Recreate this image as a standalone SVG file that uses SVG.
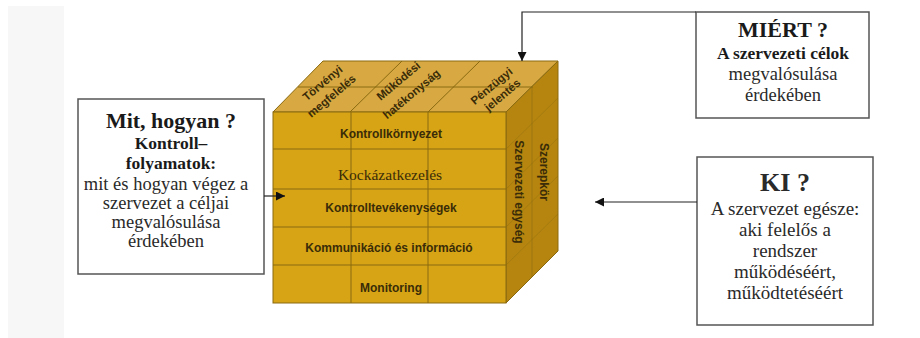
<svg xmlns="http://www.w3.org/2000/svg" width="920" height="338" viewBox="0 0 920 338">
<defs>
<style>
.box{fill:#fff;stroke:#555;stroke-width:1.5}
.ser{font-family:"Liberation Serif","Times New Roman",serif;fill:#2a2a2a;text-anchor:middle}
.h{font-weight:bold;font-size:22px;fill:#1a1a1a}
.b{font-weight:bold;font-size:17.5px;fill:#1a1a1a}
.r{font-size:18.5px}
.cl{font-family:"Liberation Sans",Arial,sans-serif;font-weight:bold;fill:#3a2c08;text-anchor:middle}
.grid{stroke:#8a6a10;stroke-width:1;fill:none}
.conn{stroke:#222;stroke-width:1.2;fill:none}
</style>
<marker id="ah" viewBox="0 0 10 10" refX="10" refY="5" markerWidth="9" markerHeight="9" markerUnits="userSpaceOnUse" orient="auto">
<path d="M0,0 L10,5 L0,10 z" fill="#111"/>
</marker>
</defs>
<rect x="0" y="0" width="920" height="338" fill="#fff"/>
<rect x="8" y="6" width="56" height="332" fill="#f7f7f7"/>

<g id="cube">
<polygon points="273,112 323,61 558,61 506,112" fill="#D8A943" stroke="#8a6a10"/>
<polygon points="506,112 558,61 558,251 506,303" fill="#B5850F" stroke="#8a6a10"/>
<rect x="273" y="112" width="233" height="191" fill="#D6A414" stroke="#8a6a10"/>
<path class="grid" d="M298,87 L533,87 M350,112 L402,61 M428,112 L480,61"/>
<path class="grid" d="M273,149 H506 M273,189 H506 M273,227 H506 M273,265 H506 M351,112 V303 M428,112 V303"/>
<path class="grid" d="M532,87 V277" stroke-opacity="0.5"/>
<path class="grid" d="M506,149 L558,98 M506,189 L558,138 M506,227 L558,176 M506,265 L558,214" stroke-opacity="0.35"/>
<g class="cl" font-size="11.5">
<text transform="translate(325,86) rotate(-40)">Törvényi</text>
<text transform="translate(334,99) rotate(-40)">megfelelés</text>
<text transform="translate(401,84) rotate(-40)">Működési</text>
<text transform="translate(414,97) rotate(-40)">hatékonyság</text>
<text transform="translate(494,89) rotate(-40)">Pénzügyi</text>
<text transform="translate(505,98) rotate(-40)">jelentés</text>
</g>
<g class="cl" font-size="12">
<text x="391" y="138">Kontrollkörnyezet</text>
<text x="390" y="180" font-family="Liberation Serif,serif" font-weight="normal" font-size="15.5">Kockázatkezelés</text>
<text x="391" y="212">Kontrolltevékenységek</text>
<text x="389" y="252">Kommunikáció és információ</text>
<text x="391" y="292">Monitoring</text>
<text transform="translate(540,172) rotate(90)">Szerepkör</text>
<text transform="translate(515,192) rotate(90)">Szervezeti egység</text>
</g>
</g>

<g id="mit">
<rect class="box" x="78" y="99" width="186" height="175"/>
<text class="ser h" x="171" y="128">Mit, hogyan ?</text>
<text class="ser b" x="171" y="149">Kontroll–</text>
<text class="ser b" x="171" y="169">folyamatok:</text>
<text class="ser r" x="166" y="190">mit és hogyan végez a</text>
<text class="ser r" x="166" y="209">szervezet a céljai</text>
<text class="ser r" x="166" y="228">megvalósulása</text>
<text class="ser r" x="166" y="247">érdekében</text>
</g>

<g id="miert">
<rect class="box" x="696" y="12" width="173" height="106"/>
<text class="ser h" x="783" y="37">MIÉRT ?</text>
<text class="ser b" x="783" y="59">A szervezeti célok</text>
<text class="ser r" x="783" y="80">megvalósulása</text>
<text class="ser r" x="783" y="101">érdekében</text>
</g>

<g id="ki">
<rect class="box" x="697" y="157" width="176" height="168"/>
<text class="ser" x="785" y="191" font-weight="bold" font-size="26" fill="#1a1a1a">KI ?</text>
<text class="ser" x="785" y="215" font-size="19">A szervezet egésze:</text>
<text class="ser" x="785" y="236" font-size="19">aki felelős a</text>
<text class="ser" x="785" y="257" font-size="19">rendszer</text>
<text class="ser" x="785" y="278" font-size="19">működéséért,</text>
<text class="ser" x="785" y="299" font-size="19">működtetéséért</text>
</g>

<g id="connectors">
<path class="conn" d="M696,12 H522 V61" marker-end="url(#ah)"/>
<path class="conn" d="M264,196 H285" marker-end="url(#ah)"/>
<path class="conn" d="M697,202 H595" marker-end="url(#ah)"/>
</g>
</svg>
